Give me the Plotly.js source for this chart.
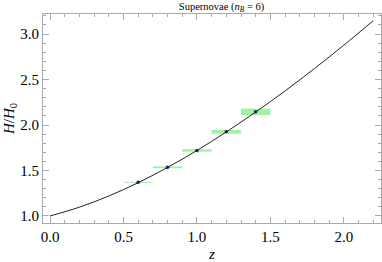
<!DOCTYPE html>
<html>
<head>
<meta charset="utf-8">
<script src="https://cdn.plot.ly/plotly-3.0.1.min.js"></script>
<style>html,body{margin:0;padding:0;background:#fff}#plot{width:382px;height:262px}</style>
</head>
<body>
<div id="plot"></div>
<script>
// model curve H/H0
var zCurve = [0.0, 0.2, 0.4, 0.6, 0.8, 1.0, 1.2, 1.4, 1.6, 1.8, 2.0, 2.2];
var hCurve = [1.000, 1.097, 1.220, 1.366, 1.534, 1.720, 1.924, 2.143, 2.375, 2.620, 2.878, 3.146];

// supernova bins
var zData = [0.6, 0.8, 1.0, 1.2, 1.4];
var hData = [1.37, 1.535, 1.72, 1.925, 2.145];
var dz = [0.1, 0.1, 0.1, 0.1, 0.1];
var dh = [0.005, 0.01, 0.013, 0.02, 0.035];

var traces = [];
for (var i = 0; i < zData.length; i++) {
  var x0 = zData[i] - dz[i], x1 = zData[i] + dz[i];
  var y0 = hData[i] - dh[i], y1 = hData[i] + dh[i];
  traces.push({
    x: [x0, x1, x1, x0, x0],
    y: [y0, y0, y1, y1, y0],
    type: 'scatter', mode: 'lines', fill: 'toself',
    fillcolor: 'rgba(120,235,120,0.7)',
    line: {width: 0, color: 'rgba(0,0,0,0)'},
    hoverinfo: 'skip', showlegend: false
  });
}
traces.push({
  x: zCurve, y: hCurve, type: 'scatter', mode: 'lines',
  line: {color: '#222', width: 1, shape: 'spline'}, showlegend: false
});
traces.push({
  x: zData, y: hData, type: 'scatter', mode: 'markers',
  marker: {color: '#1c1c70', size: 3.5}, showlegend: false
});

var axisStyle = {
  showgrid: false, zeroline: false, showline: true, linecolor: '#aaa', linewidth: 1,
  mirror: 'allticks', ticks: 'inside', ticklen: 6, tickcolor: '#aaa', tickwidth: 1,
  tickfont: {family: 'Liberation Serif, serif', size: 15, color: '#000'}
};

var layout = {
  width: 382, height: 262,
  margin: {l: 43, r: 1, t: 14, b: 39},
  paper_bgcolor: '#fff', plot_bgcolor: '#fff',
  title: {text: 'Supernovae (<i>n<sub>B</sub></i> = 6)', x: 0.58, xanchor: 'center', y: 0.99, yanchor: 'top',
    font: {family: 'Liberation Serif, serif', size: 10.5, color: '#000'}},
  xaxis: Object.assign({}, axisStyle, {
    range: [-0.048, 2.253], tickvals: [0, 0.5, 1, 1.5, 2], ticktext: ['0.0', '0.5', '1.0', '1.5', '2.0'],
    minor: {ticks: 'inside', dtick: 0.1, ticklen: 3, tickcolor: '#aaa'},
    title: {text: '<i>z</i>', standoff: 9, font: {family: 'Liberation Serif, serif', size: 15, color: '#000'}}
  }),
  yaxis: Object.assign({}, axisStyle, {
    range: [0.923, 3.22], tickvals: [1, 1.5, 2, 2.5, 3], ticktext: ['1.0', '1.5', '2.0', '2.5', '3.0'],
    minor: {ticks: 'inside', dtick: 0.1, ticklen: 3, tickcolor: '#aaa'},
    title: {text: '<i>H</i>/<i>H</i><sub>0</sub>', standoff: 2, font: {family: 'Liberation Serif, serif', size: 15, color: '#000'}}
  })
};

Plotly.newPlot('plot', traces, layout, {displayModeBar: false, staticPlot: true});
</script>
</body>
</html>
